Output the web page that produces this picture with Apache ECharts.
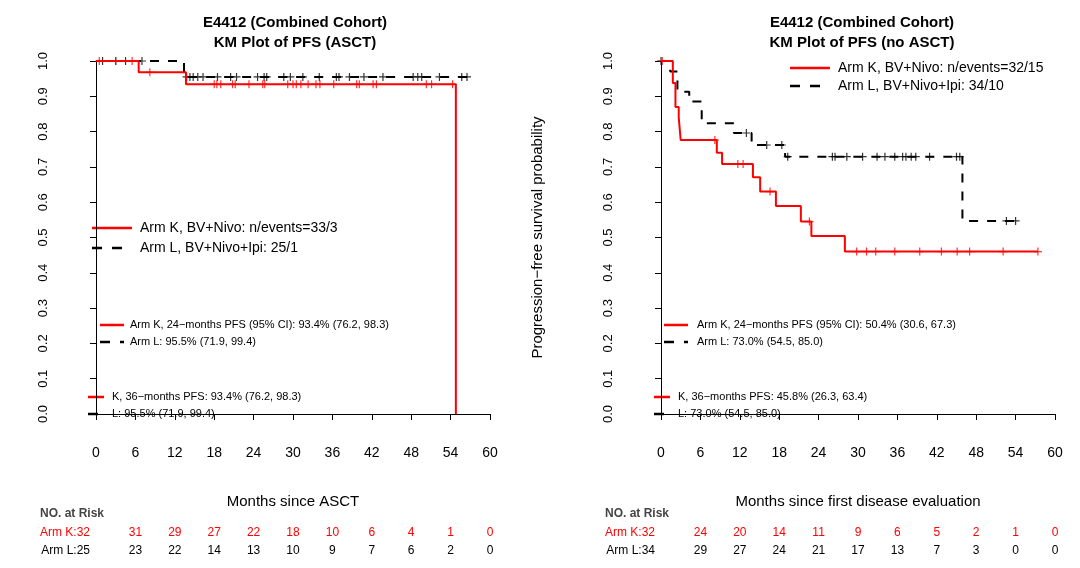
<!DOCTYPE html>
<html><head><meta charset="utf-8">
<script src="https://cdn.jsdelivr.net/npm/echarts@6/dist/echarts.min.js"></script>
<style>html,body{margin:0;background:#fff}#main{width:1080px;height:568px}</style>
</head><body><div id="main"></div>
<script>
// step curves: [time, survival]
const leftK = [[0,1],[6.5,0.968],[13.7,0.934],[54.8,0.934],[54.8,0]];
const leftL = [[0,1],[13.4,0.955],[56.6,0.955]];
const leftKCens = [0.5,3,5.5,8.2,18.0,18.4,19.0,20.8,21.2,23.3,25.4,25.7,29.2,30.0,30.5,31.2,32.3,33.5,34.1,36.2,39.7,40.1,42.2,42.7,50.3,51.1,54.3];
const leftLCens = [1,3,4.5,7,13.8,14.3,14.8,15.5,16.3,18.5,20.5,21.4,24.6,25.6,26.0,28.6,29.6,31.5,34.0,36.6,37.0,38.6,40.8,43.7,48.3,49.0,49.6,52.3,55.7,56.5];
const rightK = [[0,1],[1.8,0.938],[2.2,0.87],[2.7,0.84],[3.0,0.776],[8.5,0.74],[9.3,0.708],[14.0,0.671],[15.1,0.63],[17.5,0.589],[21.3,0.545],[22.9,0.504],[28.0,0.46],[57.4,0.46]];
const rightL = [[0,1],[1.4,0.97],[2.5,0.913],[4.3,0.885],[6.2,0.824],[11.1,0.796],[13.8,0.762],[18.9,0.729],[45.9,0.729],[45.9,0.547],[54.1,0.547]];
const rightKCens = [0.2,8.2,11.7,12.5,16.6,22.6,29.8,31.3,32.7,35.6,39.4,42.7,45.1,47.0,52.1,57.4];
const rightLCens = [0,13.0,16.1,18.4,19.3,26.1,26.5,28.3,30.7,32.9,34.1,35.6,36.8,37.3,38.1,38.8,40.9,45.0,45.5,52.6,54.0];
const xTicks = [0,6,12,18,24,30,36,42,48,54,60];
const riskLeftK = [32,31,29,27,22,18,10,6,4,1,0];
const riskLeftL = [25,23,22,14,13,10,9,7,6,2,0];
const riskRightK = [32,24,20,14,11,9,6,5,2,1,0];
const riskRightL = [34,29,27,24,21,17,13,7,3,0,0];

function survAt(curve, t) {
  let s = 1;
  for (const p of curve) { if (p[0] <= t && p[1] > 0) s = p[1]; }
  return s;
}
const RED = '#ff0000';
const plus = 'path://M0,-1L0,1M-1,0L1,0';
function stepSeries(data, color, dashed, idx) {
  return {type:'line', step:'end', data, xAxisIndex:idx, yAxisIndex:idx, symbol:'none', animation:false,
    lineStyle:{color, width:2, type: dashed ? [9,9] : 'solid'}};
}
function censSeries(curve, times, color, idx) {
  return {type:'scatter', xAxisIndex:idx, yAxisIndex:idx, symbol:plus, symbolSize:8, animation:false,
    data: times.map(t => [t, survAt(curve, t)]),
    itemStyle:{color:'none', borderColor:color, borderWidth:1.2}};
}
const font = 'Liberation Sans, Arial, sans-serif';
function axes(gi, name) {
  return {
    x: {type:'value', gridIndex:gi, min:0, max:60, interval:6, offset:16,
      axisLine:{lineStyle:{color:'#000'}}, axisTick:{lineStyle:{color:'#000'}, length:6},
      axisLabel:{color:'#000', fontSize:14, fontFamily:font, margin:16}, splitLine:{show:false},
      name, nameLocation:'middle', nameGap:64, nameTextStyle:{color:'#000', fontSize:15, fontFamily:font}},
    y: {type:'value', gridIndex:gi, min:0, max:1, interval:0.1, offset:36,
      axisLine:{show:true, lineStyle:{color:'#000'}}, axisTick:{show:true, lineStyle:{color:'#000'}, length:6},
      axisLabel:{color:'#000', fontSize:13, fontFamily:font, rotate:90, margin:10, formatter:v=>v.toFixed(1)},
      splitLine:{show:false},
      name:'Progression\u2212free survival probability', nameLocation:'middle', nameGap:80,
      nameTextStyle:{color:'#000', fontSize:15, fontFamily:font}}
  };
}
const a1 = axes(0, 'Months since ASCT');
const a2 = axes(1, 'Months since first disease evaluation');
const chart = echarts.init(document.getElementById('main'));
chart.setOption({
  backgroundColor:'#fff',
  title:[
    {text:'E4412 (Combined Cohort)\nKM Plot of PFS (ASCT)', left:290, top:8, textAlign:'center',
     textStyle:{fontSize:15, fontWeight:'bold', fontFamily:font, lineHeight:20, color:'#000'}},
    {text:'E4412 (Combined Cohort)\nKM Plot of PFS (no ASCT)', left:857, top:8, textAlign:'center',
     textStyle:{fontSize:15, fontWeight:'bold', fontFamily:font, lineHeight:20, color:'#000'}}
  ],
  grid:[{left:96, top:61, width:394, height:353, outerBoundsMode:'none', containLabel:false},
        {left:661, top:61, width:394, height:353, outerBoundsMode:'none', containLabel:false}],
  xAxis:[a1.x, a2.x], yAxis:[a1.y, a2.y],
  series:[
    stepSeries(leftL, '#000', true, 0), stepSeries(leftK, RED, false, 0),
    censSeries(leftL, leftLCens, '#000', 0), censSeries(leftK, leftKCens, RED, 0),
    stepSeries(rightL, '#000', true, 1), stepSeries(rightK, RED, false, 1),
    censSeries(rightL, rightLCens, '#000', 1), censSeries(rightK, rightKCens, RED, 1)
  ]
});
const g = [];
function legLine(x1, x2, y, color, dashed, w) {
  g.push({type:'line', shape:{x1, y1:y, x2, y2:y}, style:{stroke:color, lineWidth:w||2.5, lineDash: dashed ? [10,10] : null}});
}
function txt(x, y, s, size, color, bold, align) {
  g.push({type:'text', x, y, style:{text:s, fontSize:size, fill:color||'#000', fontFamily:font,
    fontWeight: bold ? 'bold' : 'normal', textAlign: align||'left', textVerticalAlign:'middle'}});
}
// left legends
legLine(92, 132, 228, RED, false); txt(140, 228, 'Arm K, BV+Nivo: n/events=33/3', 14);
legLine(92, 132, 248, '#000', true); txt(140, 248, 'Arm L, BV+Nivo+Ipi: 25/1', 14);
legLine(100, 124, 325, RED, false); txt(130, 325, 'Arm K, 24\u2212months PFS (95% CI): 93.4% (76.2, 98.3)', 11);
legLine(100, 124, 342, '#000', true); txt(130, 342, 'Arm L: 95.5% (71.9, 99.4)', 11);
legLine(88, 104, 397, RED, false); txt(112, 397, 'K, 36\u2212months PFS: 93.4% (76.2, 98.3)', 11);
legLine(88, 104, 414, '#000', true); txt(112, 414, 'L: 95.5% (71.9, 99.4)', 11);
// right legends
legLine(790, 830, 68, RED, false); txt(838, 68, 'Arm K, BV+Nivo: n/events=32/15', 14);
legLine(790, 830, 86, '#000', true); txt(838, 86, 'Arm L, BV+Nivo+Ipi: 34/10', 14);
legLine(664, 688, 325, RED, false); txt(697, 325, 'Arm K, 24\u2212months PFS (95% CI): 50.4% (30.6, 67.3)', 11);
legLine(664, 688, 342, '#000', true); txt(697, 342, 'Arm L: 73.0% (54.5, 85.0)', 11);
legLine(654, 670, 397, RED, false); txt(678, 397, 'K, 36\u2212months PFS: 45.8% (26.3, 63.4)', 11);
legLine(654, 670, 414, '#000', true); txt(678, 414, 'L: 73.0% (54.5, 85.0)', 11);
// risk tables
function riskTable(idx, rowsK, rowsL, labelX, kLab, lLab) {
  txt(labelX, 514, 'NO. at Risk', 12, '#444', true);
  txt(labelX + 50, 533, kLab, 12, RED, false, 'right');
  txt(labelX + 50, 551, lLab, 12, '#000', false, 'right');
  xTicks.forEach((t, i) => {
    if (i === 0) return;
    const px = chart.convertToPixel({xAxisIndex: idx}, t);
    txt(px, 533, String(rowsK[i]), 12, RED, false, 'center');
    txt(px, 551, String(rowsL[i]), 12, '#000', false, 'center');
  });
}
riskTable(0, riskLeftK, riskLeftL, 40, 'Arm K:' + riskLeftK[0], 'Arm L:' + riskLeftL[0]);
riskTable(1, riskRightK, riskRightL, 605, 'Arm K:' + riskRightK[0], 'Arm L:' + riskRightL[0]);
chart.setOption({graphic: g});
</script></body></html>
